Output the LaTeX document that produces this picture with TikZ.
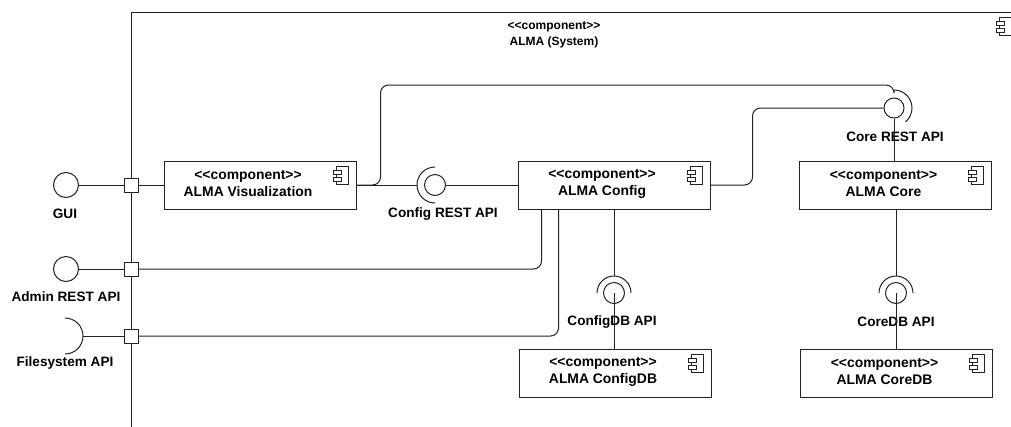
\documentclass[tikz,border=0pt]{standalone}
\usepackage{fontspec}
\setmainfont{Liberation Sans}
\usetikzlibrary{calc}
\definecolor{ln}{HTML}{222222}
\newcommand{\cmpst}{<\kern0pt<component>\kern0pt>}
\tikzset{
  comp/.style={draw=ln,line width=1pt,fill=white,minimum width=192pt,minimum height=48pt,inner sep=0pt,
    path picture={
      \draw[ln,line width=0.9pt] ([shift={(-20,-5)}]path picture bounding box.north east) rectangle ++(12,-18);
      \draw[ln,line width=0.9pt,fill=white] ([shift={(-23,-9)}]path picture bounding box.north east) rectangle ++(8,-4);
      \draw[ln,line width=0.9pt,fill=white] ([shift={(-23,-16)}]path picture bounding box.north east) rectangle ++(8,-4);
    }},
  ctext/.style={font=\fontsize{13.9}{17}\selectfont\bfseries,align=center,inner sep=0pt},
  lbl/.style={font=\fontsize{13.6}{16}\selectfont\bfseries,inner sep=0pt},
  port/.style={draw=ln,line width=1pt,fill=white,minimum size=14pt,inner sep=0pt},
  ball/.style={draw=ln,line width=1pt,circle,minimum size=21pt,inner sep=0pt},
  bigball/.style={ball,minimum size=25pt},
  sock/.style={circle,minimum size=34pt,inner sep=0pt,outer sep=0pt},
  wire/.style={draw=ln,line width=1pt,rounded corners=8pt},
}
\begin{document}
\begin{tikzpicture}[x=1pt,y=1pt]
\useasboundingbox (0,0) rectangle (1011,-426);
\node[comp,minimum width=888pt,minimum height=428pt] (sys) at (575,-226) {};
\node[ctext,font=\fontsize{12}{16}\selectfont\bfseries] (sysT) at (554,-35) {\cmpst\\ALMA (System)};

\node[comp] (vis) at (260,-185) {};
\node[ctext] (visT) at (248,-184) {\cmpst\\ALMA Visualization};
\node[comp] (cfg) at (614,-185) {};
\node[ctext] (cfgT) at (602,-184) {\cmpst\\ALMA Config};
\node[comp] (core) at (895.5,-185) {};
\node[ctext] (coreT) at (883.5,-184) {\cmpst\\ALMA Core};
\node[comp] (cfgdb) at (615,-373) {};
\node[ctext] (cfgdbT) at (603,-372) {\cmpst\\ALMA ConfigDB};
\node[comp] (coredb) at (896.5,-373) {};
\node[ctext] (coredbT) at (884.5,-372) {\cmpst\\ALMA CoreDB};

\node[port] (pGui) at (131,-185) {};
\node[port] (pAdm) at (131,-269) {};
\node[port] (pFs) at (131,-336) {};

\node[bigball] (gui) at (66,-185) {};
\node[lbl] (guiL) at (65,-214) {GUI};
\node[bigball] (adm) at (66,-269) {};
\node[lbl] (admL) at (66,-297) {Admin REST API};
\node[sock,minimum size=36pt] (fsS) at (65,-336) {};
\node[lbl] (fsL) at (65,-363) {Filesystem API};

\node[ball] (cfgB) at (435,-185) {};
\node[sock,minimum size=36pt] (cfgS) at (435,-185) {};
\node[lbl] (cfgL) at (443,-214) {Config REST API};
\node[ball,minimum size=20pt] (coreB) at (894,-108) {};
\node[sock,minimum size=36pt] (coreS) at (894,-108) {};
\node[lbl] (coreL) at (895,-137) {Core REST API};
\node[ball] (cdbB) at (614,-293) {};
\node[sock] (cdbS) at (614,-293) {};
\node[lbl] (cdbL) at (612,-322) {ConfigDB API};
\node[ball] (kdbB) at (896,-293) {};
\node[sock] (kdbS) at (896,-293) {};
\node[lbl] (kdbL) at (896,-322) {CoreDB API};

\draw[wire] (fsS.north) arc[start angle=90,end angle=-90,radius=18pt];
\draw[wire] (cfgS.north) arc[start angle=90,end angle=270,radius=18pt];
\draw[wire] (coreS.north) arc[start angle=90,end angle=-50,radius=18pt];
\draw[wire] (cdbS.west) arc[start angle=180,end angle=0,radius=17pt];
\draw[wire] (kdbS.west) arc[start angle=180,end angle=0,radius=17pt];

\draw[wire] (gui.east) -- (pGui.west);
\draw[wire] (pGui.east) -- (vis.west);
\draw[wire] (adm.east) -- (pAdm.west);
\draw[wire] (pAdm.east) -| ([xshift=24pt]cfg.south west);
\draw[wire] (fsS.east) -- (pFs.west);
\draw[wire] (pFs.east) -| ([xshift=41pt]cfg.south west);
\draw[wire] (vis.east) -- (cfgS.west);
\draw[wire] (cfgB.east) -- (cfg.west);
\draw[wire] (vis.east) -- ++(24,0) |- (coreS.north |- 0,-85) -- (coreS.north);
\draw[wire] (cfg.east) -- ++(42,0) |- (coreB.west);
\draw[wire] (coreB.south) -- (coreB.south |- core.north);
\draw[wire] (cdbS.north |- cfg.south) -- (cdbS.north);
\draw[wire] (cdbB.center) -- (cdbB.center |- cfgdb.north);
\draw[wire] (kdbS.north |- core.south) -- (kdbS.north);
\draw[wire] (kdbB.center) -- (kdbB.center |- coredb.north);
\end{tikzpicture}
\end{document}
